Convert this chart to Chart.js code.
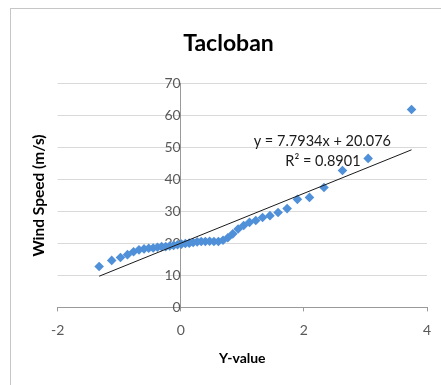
<!DOCTYPE html>
<html>
<head>
<meta charset="utf-8">
<script src="https://cdn.jsdelivr.net/npm/chart.js@4/dist/chart.umd.min.js"></script>
<style>
html, body { margin: 0; padding: 0; background: #fff; overflow: hidden; }
#frame { position: absolute; left: 10px; top: 8px; width: 440px; height: 380px; border: 1px solid #c6c6c6; background: #fff; }
canvas { display: block; }
</style>
</head>
<body>
<div id="frame"><canvas id="tacloban-chart" width="440" height="380"></canvas></div>
<script>
// reduced variate (x) and sorted wind speeds (y)
var yValues = [-1.325, -1.121, -0.979, -0.865, -0.766, -0.678, -0.596, -0.520, -0.447, -0.378,
    -0.310, -0.244, -0.179, -0.115, -0.052, 0.011, 0.075, 0.138, 0.202, 0.267,
    0.333, 0.400, 0.469, 0.539, 0.612, 0.687, 0.765, 0.846, 0.932, 1.022,
    1.117, 1.219, 1.329, 1.449, 1.581, 1.728, 1.895, 2.091, 2.327, 2.627,
    3.044, 3.749];
var windSpeed = [12.8, 14.7, 15.6, 16.5, 17.4, 18.0, 18.3, 18.5, 18.6, 18.8,
    19.0, 19.0, 19.2, 19.4, 19.6, 19.8, 20.0, 20.1, 20.3, 20.5,
    20.6, 20.6, 20.7, 20.6, 20.6, 21.0, 21.8, 23.0, 24.5, 25.6,
    26.6, 27.2, 28.1, 28.7, 29.7, 30.9, 33.8, 34.4, 37.5, 42.8,
    46.6, 61.9];
var xTicks = [-2, 0, 2, 4];
var yTicks = [0, 10, 20, 30, 40, 50, 60, 70];

var trendSlope = 7.7934;
var trendIntercept = 20.076;
var eqText = 'y = 7.7934x + 20.076';
var r2Text = 'R\u00b2 = 0.8901';

var points = yValues.map(function (v, i) { return {x: v, y: windSpeed[i]}; });
var xMin = Math.min.apply(null, yValues);
var xMax = Math.max.apply(null, yValues);
var trendPoints = [
    {x: xMin, y: trendSlope * xMin + trendIntercept},
    {x: xMax, y: trendSlope * xMax + trendIntercept}
];

const trendLabel = {
    id: 'trendLabel',
    beforeDatasetsDraw(chart) {
        const ctx = chart.ctx;
        const x = chart.scales.x, y = chart.scales.y;
        ctx.save();
        ctx.font = '14.5px Lato';
        ctx.fillStyle = '#1a1a1a';
        ctx.textAlign = 'center';
        ctx.textBaseline = 'middle';
        ctx.fillText(eqText, x.getPixelForValue(2.30), y.getPixelForValue(52.0));
        ctx.fillText(r2Text, x.getPixelForValue(2.31), y.getPixelForValue(45.7));
        ctx.restore();
    }
};

const ctx = document.getElementById('tacloban-chart').getContext('2d');
new Chart(ctx, {
    type: 'scatter',
    data: {
        datasets: [{
            label: 'Trend',
            type: 'line',
            data: trendPoints,
            borderColor: '#1a1a1a',
            borderWidth: 1,
            pointRadius: 0,
            fill: false,
            order: 0
        }, {
            label: 'Wind Speed',
            data: points,
            pointStyle: 'rectRot',
            pointRadius: 4.8,
            backgroundColor: '#4f90d8',
            borderColor: '#4f90d8',
            borderWidth: 0,
            order: 1
        }]
    },
    options: {
        responsive: false,
        animation: false,
        devicePixelRatio: 1,
        layout: {padding: {left: 19, right: 24, top: 0, bottom: 22}},
        plugins: {
            legend: {display: false},
            tooltip: {enabled: false},
            title: {
                display: true,
                text: 'Tacloban',
                color: '#000',
                font: {family: 'Lato', size: 23, weight: 'bold'},
                padding: {top: 21, bottom: 26}
            }
        },
        scales: {
            x: {
                type: 'linear',
                min: -2, max: 4,
                afterBuildTicks: function (s) { s.ticks = xTicks.map(function (v) { return {value: v}; }); },
                grid: {drawOnChartArea: false, drawTicks: true, tickLength: 4, color: '#9a9a9a'},
                border: {color: '#9a9a9a'},
                ticks: {color: '#595959', font: {family: 'Lato', size: 14}, padding: 11},
                title: {display: true, text: 'Y-value', color: '#000',
                    font: {family: 'Lato', size: 14, weight: 'bold'}, padding: {top: 0, bottom: 0}}
            },
            y: {
                type: 'linear',
                position: {x: 0},
                min: 0, max: 70,
                afterBuildTicks: function (s) { s.ticks = yTicks.map(function (v) { return {value: v}; }); },
                grid: {color: '#d9d9d9', drawTicks: false},
                border: {color: '#9a9a9a'},
                ticks: {color: '#595959', font: {family: 'Lato', size: 14}, padding: 32}
            },
            yTitle: {
                type: 'linear',
                position: 'left',
                grid: {display: false, drawTicks: false},
                border: {display: false},
                ticks: {display: false},
                title: {display: true, text: 'Wind Speed (m/s)', color: '#000',
                    font: {family: 'Lato', size: 15.5, weight: 'bold'}, padding: {top: 0, bottom: 9}}
            }
        }
    },
    plugins: [trendLabel]
});
</script>
</body>
</html>
